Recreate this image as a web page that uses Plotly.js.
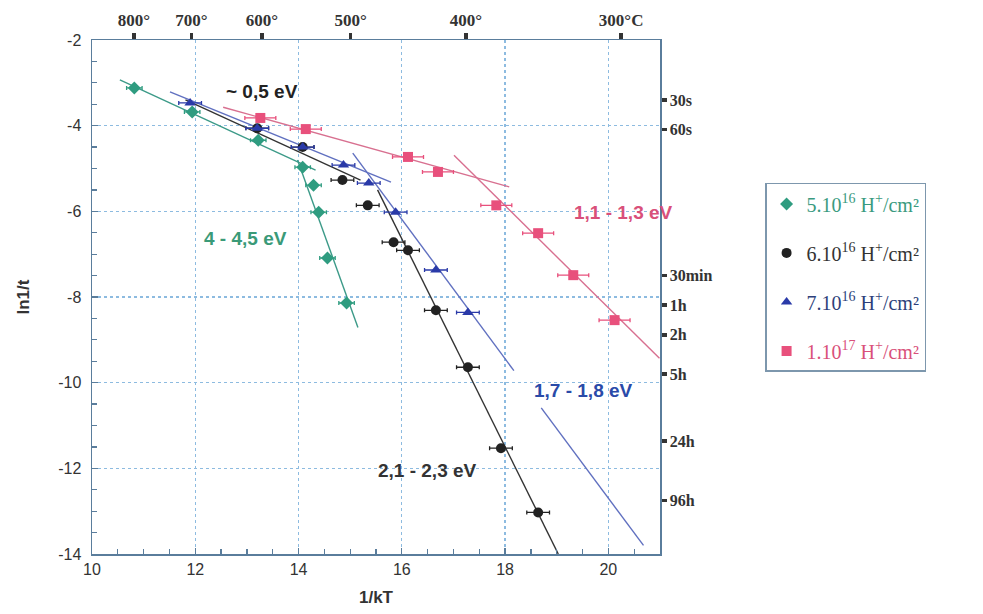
<!DOCTYPE html>
<html>
<head>
<meta charset="utf-8">
<script src="https://cdn.plot.ly/plotly-3.0.1.min.js"></script>
<style>html,body{margin:0;padding:0;background:#fff;}#chart{width:983px;height:614px;}</style>
</head>
<body>
<div id="chart"></div>
<script>
// ---- data ----
const teal_x = [10.82, 11.94, 13.22, 14.08, 14.29, 14.39, 14.56, 14.93];
const teal_y = [-3.12, -3.68, -4.34, -4.97, -5.39, -6.02, -7.09, -8.14];

const black_x = [13.20, 14.08, 14.85, 15.34, 15.84, 16.12, 16.66, 17.28, 17.92, 18.64];
const black_y = [-4.06, -4.50, -5.27, -5.86, -6.72, -6.91, -8.31, -9.64, -11.53, -13.03];

const blue_x = [11.90, 13.20, 14.08, 14.87, 15.36, 15.88, 16.66, 17.28];
const blue_y = [-3.47, -4.06, -4.50, -4.92, -5.34, -6.02, -7.37, -8.36];

const pink_x = [13.26, 14.14, 16.12, 16.70, 17.83, 18.64, 19.32, 20.12];
const pink_y = [-3.82, -4.08, -4.73, -5.08, -5.86, -6.51, -7.49, -8.54];

// fitted lines (end points)
const tealFit1_x = [10.54, 14.33], tealFit1_y = [-2.93, -5.04];
const tealFit2_x = [13.98, 15.15], tealFit2_y = [-4.80, -8.71];
const blueFit1_x = [11.51, 15.79], blueFit1_y = [-3.21, -5.32];
const blackFit1_x = [11.81, 15.20], blackFit1_y = [-3.40, -5.27];
const blueFit2_x = [15.05, 18.17, null, 18.70, 20.68], blueFit2_y = [-4.64, -9.72, null, -10.59, -13.80];
const blackFit2_x = [15.53, 19.03], blackFit2_y = [-5.50, -14.00];
const pinkFit1_x = [12.54, 18.08], pinkFit1_y = [-3.57, -5.43];
const pinkFit2_x = [17.01, 20.99], pinkFit2_y = [-4.69, -9.43];

// secondary axes
const topTempsC = [800, 700, 600, 500, 400, 300];
const topLabels = ['800°', '700°', '600°', '500°', '400°', '300°C'];
const rightTimesS = [30, 60, 1800, 3600, 7200, 18000, 86400, 345600];
const rightLabels = ['30s', '60s', '30min', '1h', '2h', '5h', '24h', '96h'];

const xTicks = [10, 12, 14, 16, 18, 20];
const yTicks = [-2, -4, -6, -8, -10, -12, -14];

const seriesNames = [
  '<span style="color:#3a9a80">5.10<sup>16</sup> H<sup>+</sup>/cm²</span>',
  '<span style="color:#333333">6.10<sup>16</sup> H<sup>+</sup>/cm²</span>',
  '<span style="color:#2d3f7a">7.10<sup>16</sup> H<sup>+</sup>/cm²</span>',
  '<span style="color:#d9507a">1.10<sup>17</sup> H<sup>+</sup>/cm²</span>'
];

// ---- build ----
const kB = 8.617e-5;
const topVals = topTempsC.map(T => 1 / (kB * (T + 273.15)));
const rightVals = rightTimesS.map(t => -Math.log(t));

const C = {teal: '#2f9c80', black: '#222222', blue: '#2a3aa8', pink: '#e8507c'};
const L = {teal: '#3c9a88', black: '#333333', blue: '#6070c0', pink: '#d87090'};

function line(x, y, c) {
  return {x: x, y: y, mode: 'lines', line: {color: c, width: 1.4}, showlegend: false, hoverinfo: 'skip', connectgaps: false};
}
function pts(x, y, c, sym, name, grp, err) {
  return {x: x, y: y, mode: 'markers', name: name, legendgroup: grp,
    marker: {color: c, symbol: sym, size: 10, line: {width: 0}},
    error_x: {type: 'constant', value: err, color: c, thickness: 1.3, width: 2}};
}

const traces = [
  line(tealFit1_x, tealFit1_y, L.teal),
  line(tealFit2_x, tealFit2_y, L.teal),
  line(blackFit1_x, blackFit1_y, L.black),
  line(blueFit1_x, blueFit1_y, L.blue),
  line(blueFit2_x, blueFit2_y, L.blue),
  line(blackFit2_x, blackFit2_y, L.black),
  line(pinkFit1_x, pinkFit1_y, L.pink),
  line(pinkFit2_x, pinkFit2_y, L.pink),
  pts(teal_x, teal_y, C.teal, 'diamond', seriesNames[0], 'a', 0.15),
  pts(black_x, black_y, C.black, 'circle', seriesNames[1], 'b', 0.22),
  pts(blue_x, blue_y, C.blue, 'triangle-up', seriesNames[2], 'c', 0.22),
  pts(pink_x, pink_y, C.pink, 'square', seriesNames[3], 'd', 0.3),
  {x: [null], y: [null], xaxis: 'x2', yaxis: 'y2', mode: 'markers', showlegend: false, hoverinfo: 'skip'}
];

const axisColor = '#5a7d9c';
const gridColor = '#8dbbe0';
const sans = 'Liberation Sans, Arial, sans-serif';
const serif = 'Liberation Serif, Times New Roman, serif';

const layout = {
  width: 983, height: 614,
  margin: {l: 92, r: 323, t: 40, b: 60},
  paper_bgcolor: '#ffffff', plot_bgcolor: '#ffffff',
  showlegend: true,
  legend: {
    x: 1.185, y: 0.722, xanchor: 'left', yanchor: 'top',
    bordercolor: '#7d97ad', borderwidth: 1.5, bgcolor: '#ffffff',
    font: {family: serif, size: 20, color: '#333'},
    traceorder: 'grouped', tracegroupgap: 20, itemwidth: 30
  },
  xaxis: {
    range: [10, 21], tickvals: xTicks, ticktext: xTicks.map(String),
    ticks: 'inside', ticklen: 6, tickcolor: axisColor, tickwidth: 1.2,
    minor: {dtick: 0.5, tick0: 10, ticks: 'inside', ticklen: 5, tickcolor: axisColor, showgrid: false},
    showgrid: true, gridcolor: gridColor, griddash: 'dot', gridwidth: 1.2,
    showline: true, linecolor: axisColor, linewidth: 1.5, zeroline: false,
    tickfont: {family: sans, size: 16, color: '#333'},
    title: {text: '<b>1/kT</b>', font: {family: sans, size: 17, color: '#333'}, standoff: 14}
  },
  yaxis: {
    range: [-14, -2], tickvals: yTicks, ticktext: yTicks.map(String),
    ticks: 'inside', ticklen: 6, tickcolor: axisColor, tickwidth: 1.2,
    minor: {dtick: 0.5, tick0: -14, ticks: 'inside', ticklen: 5, tickcolor: axisColor, showgrid: false},
    showgrid: true, gridcolor: gridColor, griddash: 'dot', gridwidth: 1.2,
    showline: true, linecolor: axisColor, linewidth: 1.5, zeroline: false,
    tickfont: {family: sans, size: 16, color: '#333'},
    ticklabelstandoff: 6,
    title: {text: '<b>ln1/t</b>', font: {family: sans, size: 17, color: '#333'}, standoff: 24}
  },
  xaxis2: {
    overlaying: 'x', side: 'top', anchor: 'y', range: [10, 21],
    tickvals: topVals, ticktext: topLabels.map(s => '<b>' + s + '</b>'),
    ticks: 'outside', ticklen: 6, tickwidth: 3.5, tickcolor: '#333',
    showgrid: false, zeroline: false,
    showline: true, linecolor: axisColor, linewidth: 1.5,
    tickfont: {family: serif, size: 17, color: '#333'}
  },
  yaxis2: {
    overlaying: 'y', side: 'right', anchor: 'x', range: [-14, -2],
    tickvals: rightVals, ticktext: rightLabels.map(s => '<b>' + s + '</b>'),
    ticks: 'outside', ticklen: 5, tickwidth: 3.5, tickcolor: '#333',
    showgrid: false, zeroline: false,
    showline: true, linecolor: axisColor, linewidth: 1.5,
    tickfont: {family: serif, size: 16, color: '#333'}
  },
  annotations: [
    {x: 13.30, y: -3.21, text: '<b>~ 0,5 eV</b>', showarrow: false, font: {family: sans, size: 19, color: '#222'}},
    {x: 12.97, y: -6.63, text: '<b>4 - 4,5 eV</b>', showarrow: false, font: {family: sans, size: 19, color: '#3a9a78'}},
    {x: 20.29, y: -6.02, text: '<b>1,1 - 1,3 eV</b>', showarrow: false, font: {family: sans, size: 19, color: '#d9507a'}},
    {x: 19.51, y: -10.18, text: '<b>1,7 - 1,8 eV</b>', showarrow: false, font: {family: sans, size: 19, color: '#2a4aa8'}},
    {x: 16.50, y: -12.05, text: '<b>2,1 - 2,3 eV</b>', showarrow: false, font: {family: sans, size: 19, color: '#333'}}
  ]
};

Plotly.newPlot('chart', traces, layout, {staticPlot: true, displayModeBar: false});
</script>
</body>
</html>
